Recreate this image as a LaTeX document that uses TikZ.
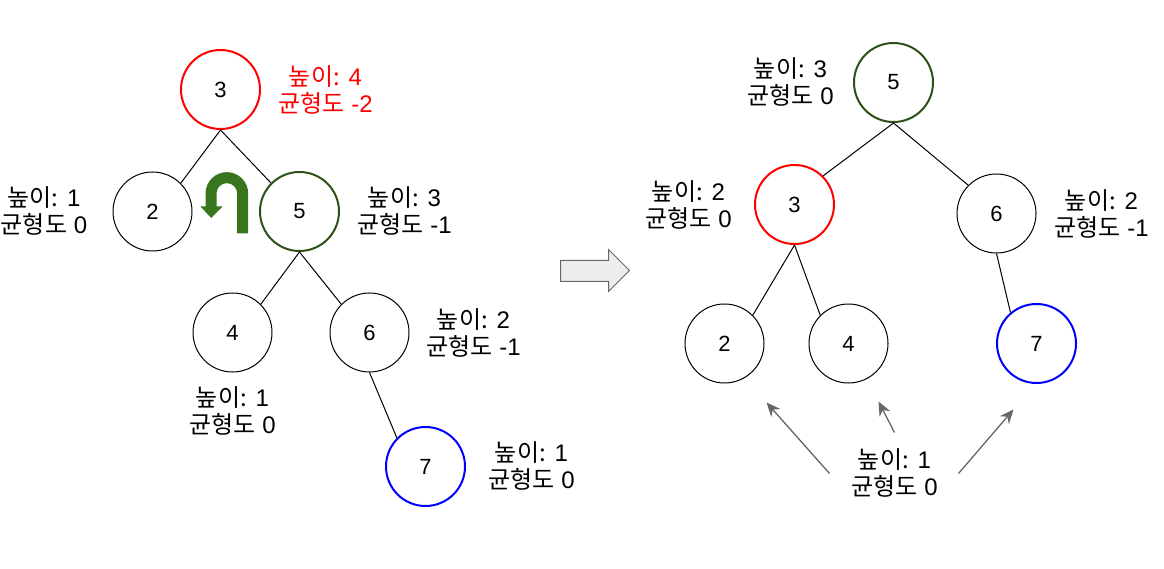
\documentclass[tikz,border=0pt]{standalone}
\usepackage{fontspec}
\usepackage{amsmath}
\usetikzlibrary{arrows.meta}
\setmainfont{Liberation Sans}
\newfontfamily\krFont{Noto Sans CJK KR}
\definecolor{rotGreen}{HTML}{38761D}
\definecolor{rootGreen}{HTML}{2D5016}
\definecolor{noteGray}{HTML}{666666}
\newcommand{\balanceText}[2]{{\krFont 높이:} #1\\{\krFont 균형도} #2}
\tikzset{
    treeNode/.style={circle, draw=black, line width=1pt, minimum size=79pt, inner sep=0pt, font=\fontsize{22}{24}\selectfont},
    redNode/.style={treeNode, draw=red, line width=2pt},
    greenNode/.style={treeNode, draw=rootGreen, line width=2pt},
    blueNode/.style={treeNode, draw=blue, line width=2pt},
    infoText/.style={align=center, inner sep=0pt, font=\fontsize{24}{27}\selectfont},
    treeEdge/.style={draw=black, line width=1pt},
    noteArrow/.style={draw=noteGray, line width=1.3pt, -{Stealth[length=14pt, width=12pt]}}
}

\begin{document}
\begin{tikzpicture}[x=1pt, y=-1pt]
    \useasboundingbox (-0.5,-0.5) rectangle (1163.5,568.5);

    % before the rotation
    \node[redNode] (leftThree) at (220,89) {3};
    \node[treeNode] (leftTwo) at (152,211) {2};
    \node[greenNode] (leftFive) at (299,211) {5};
    \node[treeNode] (leftFour) at (232,332) {4};
    \node[treeNode] (leftSix) at (369,332) {6};
    \node[blueNode] (leftSeven) at (425,466) {7};

    \draw[treeEdge] (leftThree.south) -- (leftTwo.45);
    \draw[treeEdge] (leftThree.south) -- (leftFive.135);
    \draw[treeEdge] (leftFive.south) -- (leftFour.45);
    \draw[treeEdge] (leftFive.south) -- (leftSix.135);
    \draw[treeEdge] (leftSix.south) -- (leftSeven.135);

    \node[infoText, text=red] (leftThreeInfo) at (325,89) {\balanceText{4}{-2}};
    \node[infoText] (leftTwoInfo) at (43.5,210) {\balanceText{1}{0}};
    \node[infoText] (leftFiveInfo) at (404,210) {\balanceText{3}{-1}};
    \node[infoText] (leftSixInfo) at (473,332) {\balanceText{2}{-1}};
    \node[infoText] (leftFourInfo) at (232,410) {\balanceText{1}{0}};
    \node[infoText] (leftSevenInfo) at (531,465) {\balanceText{1}{0}};

    \fill[rotGreen] (247.7,233) -- (236.7,233) -- (236.7,193)
        arc[start angle=0, end angle=-180, radius=10.35] -- (216,206) -- (222,206)
        -- (210.7,217.5) -- (200,206) -- (205,206) -- (205,193)
        arc[start angle=180, end angle=360, radius=21.35] -- cycle;

    \draw[draw=noteGray, fill=black!7, line width=1pt] (560,260) -- (608,260) -- (608,249) -- (629,270)
        -- (608,291) -- (608,281) -- (560,281) -- cycle;

    % after the rotation
    \node[greenNode] (rightFive) at (893,82) {5};
    \node[redNode] (rightThree) at (794,204) {3};
    \node[treeNode] (rightSix) at (996,213) {6};
    \node[treeNode] (rightTwo) at (724,343) {2};
    \node[treeNode] (rightFour) at (848,343) {4};
    \node[blueNode] (rightSeven) at (1036,343) {7};

    \draw[treeEdge] (rightFive.south) -- (rightThree.45);
    \draw[treeEdge] (rightFive.south) -- (rightSix.135);
    \draw[treeEdge] (rightThree.south) -- (rightTwo.45);
    \draw[treeEdge] (rightThree.south) -- (rightFour.135);
    \draw[treeEdge] (rightSix.south) -- (rightSeven.130);

    \node[infoText] (rightFiveInfo) at (790,81) {\balanceText{3}{0}};
    \node[infoText] (rightThreeInfo) at (688,204) {\balanceText{2}{0}};
    \node[infoText] (rightSixInfo) at (1101,213) {\balanceText{2}{-1}};
    \node[infoText] (rightLeafInfo) at (894,472) {\balanceText{1}{0}};

    \coordinate (tipTwo) at (766,402);
    \coordinate (tipFour) at (878,401);
    \coordinate (tipSeven) at (1013,409);
    \coordinate (tailTwo) at (829,473);
    \coordinate (tailFour) at (894,432);
    \coordinate (tailSeven) at (958,473);
    \draw[noteArrow] (tailTwo) -- (tipTwo);
    \draw[noteArrow] (tailFour) -- (tipFour);
    \draw[noteArrow] (tailSeven) -- (tipSeven);
\end{tikzpicture}
\end{document}
